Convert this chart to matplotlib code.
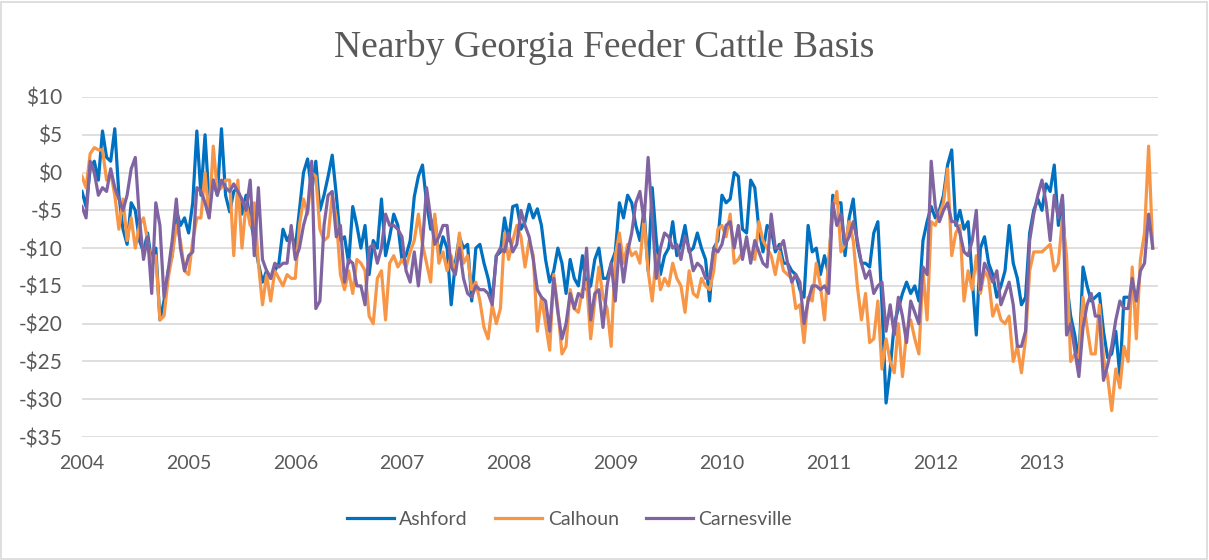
import matplotlib
matplotlib.use('Agg')
import matplotlib.pyplot as plt
from matplotlib.patches import Rectangle
import numpy as np

# biweekly basis ($/cwt), 26 points per year starting Jan 2004
ashford = [
    -2.5, -4.5, 0.5, 1.5, -1, 5.5, 2, 1.5, 5.8, -3, -7.5, -9.5, -4, -5, -9, -10.5, -8, -12, -10, -19.5, -17, -13, -11, -5, -7, -6,  # 2004
    -8, -4, 5.5, -3, 5, -4, -1, -3, 5.8, -3, -5.2, -2.5, -2, -5.5, -3, -6, -9, -12, -14.5, -13, -14, -13, -12, -7.5, -9, -8,  # 2005
    -10, -5, 0, 1.8, -2.5, 1.5, -5, -3, -0.5, 2.3, -3, -9, -8.5, -12, -4.5, -7, -10, -7, -13.5, -9, -10, -3.5, -11, -8.5, -5.5, -7,  # 2006
    -11.5, -11, -9, -3.2, -0.5, 1, -4, -7.5, -6, -11, -8.5, -10, -17.5, -12, -8.5, -10, -9.5, -17, -10, -9.5, -12, -14, -17, -11, -10.5, -6,  # 2007
    -9, -4.5, -4.3, -7.5, -6.5, -4.2, -6, -4.8, -7, -11.5, -14.5, -13, -10, -12, -16, -11.5, -14, -15, -11, -15.5, -15, -11.5, -10, -14, -14, -12,  # 2008
    -10.5, -4, -6, -3, -4, -7, -9, -5, -13, -2, -9, -13.5, -11, -10, -6.5, -11, -9.5, -7, -10.5, -10, -8, -10, -11.5, -17, -10, -9,  # 2009
    -3, -4, -3.5, 0, -0.5, -7.5, -8, -1, -2, -7.5, -10.5, -7, -7.5, -10.5, -9.5, -12, -12, -13, -13.5, -15.5, -16.5, -7, -10.5, -10, -13.5, -11,  # 2010
    -13.5, -3, -4, -4, -11, -6, -3.5, -9.5, -12, -12, -12.5, -8, -6.5, -17.5, -30.5, -26, -20, -18, -16, -14.5, -16, -15, -17, -9, -6.5, -4.5,  # 2011
    -6, -5, -3, 1, 3, -7, -5, -7.5, -6.5, -14, -21.5, -10, -8.5, -12, -13.5, -16.5, -15, -13, -7, -12, -14, -17.5, -16.5, -8, -5, -3.5,  # 2012
    -5, -1.5, -2.5, 1, -7, -3.5, -14.5, -19, -21.5, -25, -12.5, -15, -17, -16.5, -16, -21, -24.5, -24, -21, -27, -16.5, -16.5,  # 2013
]
calhoun = [
    -0.5, -2, 2.5, 3.3, 3, 3, -1, 0, -3, -7.5, -3.5, -9, -6, -10, -7, -6, -9, -12.5, -11, -19.5, -19, -14, -11, -7, -9, -13,  # 2004
    -13.5, -9, -6, -6, 0, -6, 3.5, -2.5, -2, -1, -1, -11, -1, -10, -4, -7, -4, -12, -17.5, -13.5, -17, -13, -14, -15, -13.5, -14,  # 2005
    -14, -7, -3.5, -5.5, 0, -0.5, -7.5, -9, -8.5, -3, -6, -13.5, -15.5, -13, -16, -11.5, -12, -13, -19, -20, -14, -13, -19.5, -12, -11, -12.5,  # 2006
    -11.5, -12.5, -10.5, -9, -5.5, -9.5, -12, -14.5, -5.5, -12, -10.5, -13, -11, -13.5, -8, -12, -11, -15.5, -14.5, -17, -20.5, -22, -17.5, -20, -18, -8,  # 2007
    -11.5, -9, -7, -8.5, -12.5, -9, -11, -21, -16.5, -20, -23.5, -13.5, -18, -24, -23, -15.5, -18, -18.5, -15.5, -14.5, -22, -17, -12.5, -16.5, -18, -23,  # 2008
    -11, -8, -12, -9.5, -11, -10.5, -12, -6, -13, -17, -11, -15.5, -14, -15, -12, -14, -15, -18.5, -13, -16, -16.5, -14, -15, -15.5, -13, -7.5,  # 2009
    -7, -8.5, -5.5, -12, -11.5, -10.5, -9.5, -11, -11.5, -6.5, -9, -10, -11, -13.5, -10.5, -13, -13.5, -14, -18, -17.5, -22.5, -16.5, -17, -12, -15, -19.5,  # 2010
    -11.5, -5, -2.5, -10.5, -9.5, -6.5, -9, -15, -19.5, -16, -22.5, -22, -17, -26, -22, -25, -26.5, -20, -27, -21, -19.5, -22, -24, -13, -19.5, -6.5,  # 2011
    -7, -5.5, -4, 0.5, -11, -8, -7, -17, -13, -15.5, -11, -16, -13, -14, -19, -17.5, -19.5, -20, -19, -25, -23, -26.5, -22, -13, -10.5, -10.5,  # 2012
    -10.5, -10, -9.5, -13, -12, -6, -11, -25, -24, -24.5, -16.5, -20.5, -24, -24, -17.5, -24.5, -27, -31.5, -26, -28.5, -23, -25, -12.5, -22, -11.5, -8,  # 2013
    3.5, -10,  # 2014
]
carnesville = [
    -4.5, -6, 1.5, 0, -3, -2, -2.5, 0.5, -2, -3.5, -5, -3, 0.5, 2, -6, -11.5, -8.5, -16, -4, -7, -16.5, -13, -9, -3.5, -10, -13,  # 2004
    -11, -10.5, -2, -2.5, -4, -6, -1, -3, -1, -2, -2.5, -1.5, -2.5, -3.5, -5, -1, -11, -2, -11.5, -13, -14, -12, -12.5, -12, -12, -7,  # 2005
    -11.5, -10, -7, -5, 1.5, -18, -17, -7, -3, -2.5, -8.5, -7, -14.5, -11.5, -12, -15, -15, -17.5, -10, -9.5, -12, -10, -5.5, -7, -7, -7.5,  # 2006
    -8.5, -13, -14.5, -10.5, -15, -9.5, -2, -6, -9.5, -8.5, -7, -7, -12.5, -13.5, -10, -14, -16, -16.5, -15, -15.5, -15.5, -16, -17.5, -11, -10, -10.5,  # 2007
    -8, -10.5, -9.5, -5, -7, -8.5, -11.5, -15.5, -16.5, -17, -21, -14, -18.5, -22, -20, -16, -18, -16, -16.5, -10, -19.5, -16, -15.5, -20.5, -15, -12,  # 2008
    -17, -9.5, -14.5, -10.5, -8, -4, -2.5, -6.5, 2, -6, -14, -10, -8, -8.5, -10, -9.5, -11.5, -8.5, -10, -13, -12, -12.5, -14, -14, -10, -10.5,  # 2009
    -9.5, -7, -6.5, -10, -7, -11.5, -8.5, -12, -9, -10.5, -12, -12.5, -5.5, -10, -10, -9, -12, -14.5, -13.5, -14.5, -20, -17, -15, -15, -15.5, -15,  # 2010
    -16, -4, -7, -5.5, -9.5, -8.5, -6.5, -9, -12, -14, -13, -16, -15, -14.5, -21, -17.5, -21.5, -16.5, -19, -22.5, -17, -18.5, -20, -12.5, -13.5, 1.5,  # 2011
    -4.5, -6.5, -5, -4, -6.5, -6.5, -8, -10.5, -11, -9, -5, -15.5, -12, -13, -14.5, -13, -17.5, -16, -14.5, -17.5, -23, -23, -21, -9, -5.5, -3,  # 2012
    -1, -4, -9, -3, -6, -3, -21.5, -20, -23.5, -27, -20.5, -17.5, -16, -19, -19, -27.5, -25.5, -23, -19.5, -17, -18, -18, -14, -17, -13, -12,  # 2013
    -5.5, -10,  # 2014
]

series = [('Ashford', ashford, '#0070c0'),
          ('Calhoun', calhoun, '#f79646'),
          ('Carnesville', carnesville, '#8064a2')]
years = list(range(2004, 2014))
yticks = [10, 5, 0, -5, -10, -15, -20, -25, -30, -35]

plt.rcParams['font.family'] = ['Lato', 'DejaVu Sans']
grey = '#595959'

fig = plt.figure(figsize=(12.09, 5.6), dpi=100)
ax = fig.add_axes([0.0678, 0.2196, 0.8902, 0.6072])

for name, vals, col in series:
    x = 2004 + np.arange(len(vals)) / 26.0
    ax.plot(x, vals, color=col, lw=2.3, label=name, solid_joinstyle='round')

ax.set_xlim(2004, 2014.09)
ax.set_ylim(-35, 10)
ax.set_yticks(yticks)
ax.set_yticklabels([('-$%d' % -v) if v < 0 else ('$%d' % v) for v in yticks])
ax.set_xticks(years)
ax.set_xticklabels([str(y) for y in years])
ax.tick_params(length=0, labelcolor=grey)
ax.tick_params(axis='x', pad=13, labelsize=14)
ax.tick_params(axis='y', pad=14, labelsize=15)
ax.grid(axis='y', color='#d9d9d9', lw=1.2)
ax.set_axisbelow(True)
for s in ax.spines.values():
    s.set_visible(False)

fig.text(0.5, 0.915, 'Nearby Georgia Feeder Cattle Basis', ha='center', va='center',
         fontsize=27, color=grey, family='Liberation Serif')

fig.legend(loc='center', bbox_to_anchor=(0.471, 0.073), ncol=3, frameon=False,
           fontsize=14, labelcolor=grey, handlelength=2.4, handletextpad=0.3,
           columnspacing=1.4)

fig.patches.append(Rectangle((0.001, 0.002), 0.997, 0.995, transform=fig.transFigure,
                             fill=False, edgecolor='#d9d9d9', lw=1.2))

fig.savefig('out.png', dpi=100)
